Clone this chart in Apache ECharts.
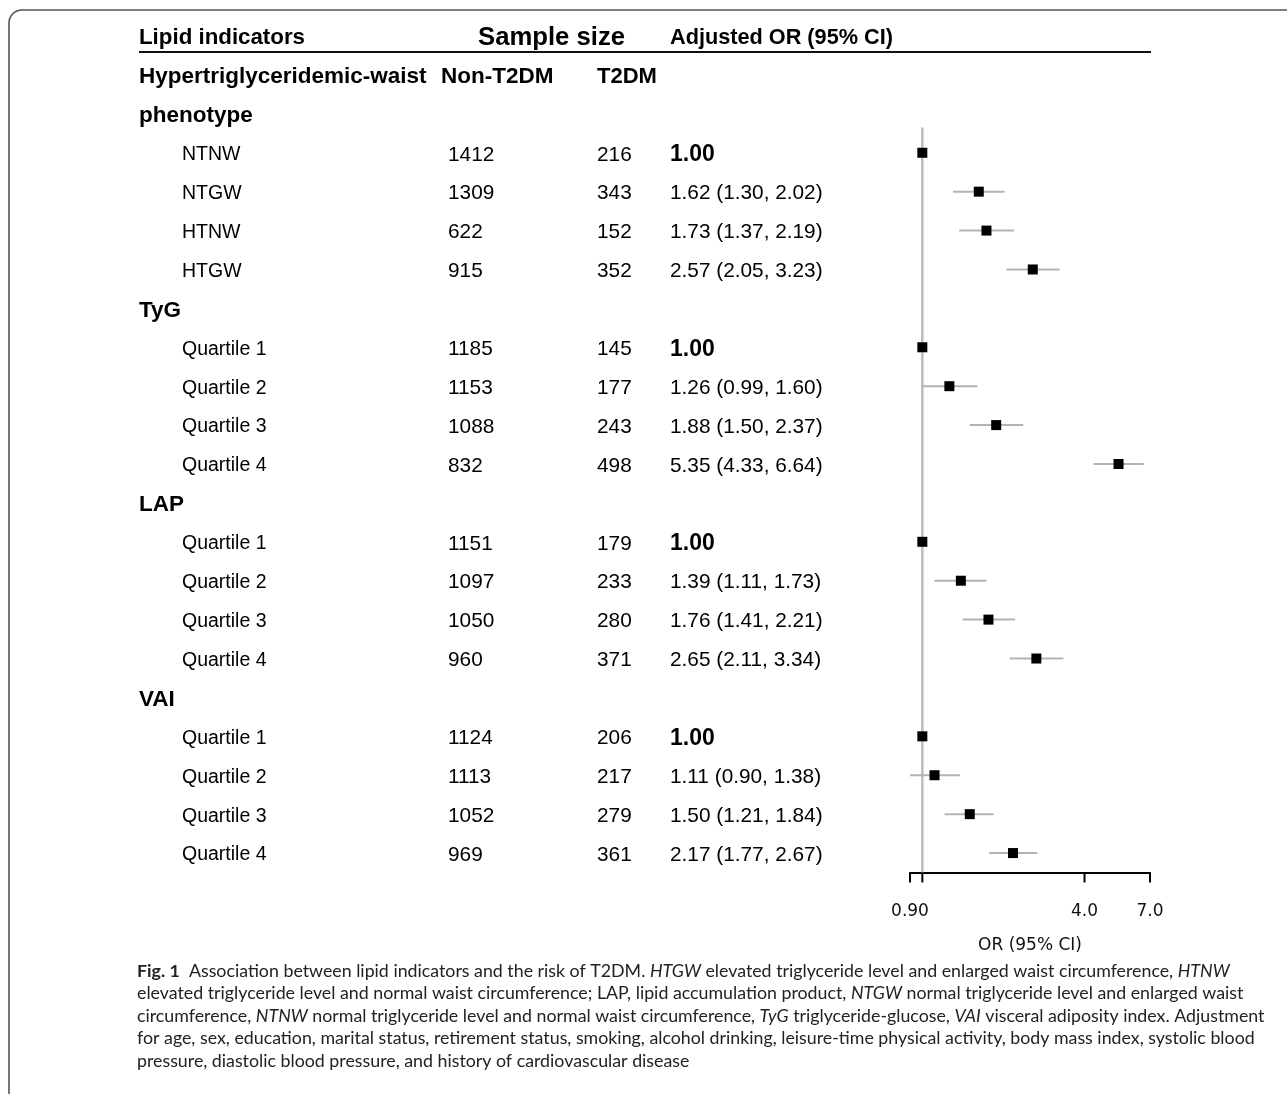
<!DOCTYPE html>
<html>
<head>
<meta charset="utf-8">
<script src="https://cdn.jsdelivr.net/npm/echarts@6/dist/echarts.min.js"></script>
<style>
html,body{margin:0;padding:0;background:#fff;}
#chart{width:1287px;height:1094px;}
</style>
</head>
<body>
<div id="chart"></div>
<script>
// ---------- DATA ----------
const headerCols = ["Lipid indicators", "Sample size", "Adjusted OR (95% CI)"];
const rowLabels = ["Hypertriglyceridemic-waist", "phenotype", "NTNW", "NTGW", "HTNW", "HTGW",
  "TyG", "Quartile 1", "Quartile 2", "Quartile 3", "Quartile 4",
  "LAP", "Quartile 1", "Quartile 2", "Quartile 3", "Quartile 4",
  "VAI", "Quartile 1", "Quartile 2", "Quartile 3", "Quartile 4"];
const groupRows = [0, 1, 6, 11, 16];
const nonT2DM = ["Non-T2DM", "", "1412", "1309", "622", "915", "", "1185", "1153", "1088", "832",
  "", "1151", "1097", "1050", "960", "", "1124", "1113", "1052", "969"];
const t2dm = ["T2DM", "", "216", "343", "152", "352", "", "145", "177", "243", "498",
  "", "179", "233", "280", "371", "", "206", "217", "279", "361"];
const orValues = [null, null, 1.00, 1.62, 1.73, 2.57, null, 1.00, 1.26, 1.88, 5.35,
  null, 1.00, 1.39, 1.76, 2.65, null, 1.00, 1.11, 1.50, 2.17];
const ciLower = [null, null, null, 1.30, 1.37, 2.05, null, null, 0.99, 1.50, 4.33,
  null, null, 1.11, 1.41, 2.11, null, null, 0.90, 1.21, 1.77];
const ciUpper = [null, null, null, 2.02, 2.19, 3.23, null, null, 1.60, 2.37, 6.64,
  null, null, 1.73, 2.21, 3.34, null, null, 1.38, 1.84, 2.67];
const tickValues = [0.9, 1.0, 4.0, 7.0];
const tickLabels = ["0.90", "", "4.0", "7.0"];
const axisTitle = "OR (95% CI)";
const captionLines = [
  "{b|Fig. 1}  Association between lipid indicators and the risk of T2DM. {i|HTGW} elevated triglyceride level and enlarged waist circumference, {i|HTNW}",
  "elevated triglyceride level and normal waist circumference; LAP, lipid accumulation product, {i|NTGW} normal triglyceride level and enlarged waist",
  "circumference, {i|NTNW} normal triglyceride level and normal waist circumference, {i|TyG} triglyceride-glucose, {i|VAI} visceral adiposity index. Adjustment",
  "for age, sex, education, marital status, retirement status, smoking, alcohol drinking, leisure-time physical activity, body mass index, systolic blood",
  "pressure, diastolic blood pressure, and history of cardiovascular disease"
];

// ---------- LAYOUT / STYLE ----------
const FONT = '"Liberation Sans", Arial, sans-serif';
const CAP_FONT = 'Lato, sans-serif';
const CAP_SIZE = 17.8;
const COL_LABEL_GROUP = 139, COL_LABEL_ITEM = 182, COL_N1 = 448, COL_N2 = 597, COL_OR = 670;
const Y_BOTTOM = 20.5;
const TEXT_DY = 2;

const chart = echarts.init(document.getElementById('chart'), null, {renderer: 'canvas'});

function orText(i) {
  if (orValues[i] == null) return '';
  if (ciLower[i] == null) return orValues[i].toFixed(2);
  return orValues[i].toFixed(2) + ' (' + ciLower[i].toFixed(2) + ', ' + ciUpper[i].toFixed(2) + ')';
}

const textRows = rowLabels.map((s, i) => [1, i]);
textRows.unshift([1, -1]);

const option = {
  backgroundColor: '#fff',
  animation: false,
  grid: {left: 910, right: 137, top: 55.5, bottom: 221.5, containLabel: false},
  xAxis: {
    type: 'log', logBase: 10, min: 0.9, max: 7, position: 'bottom',
    axisLine: {show: true, onZero: false, lineStyle: {color: '#000', width: 2}},
    axisTick: {show: false}, axisLabel: {show: false}, splitLine: {show: false},
    name: axisTitle, nameLocation: 'middle', nameGap: 65,
    nameTextStyle: {fontFamily: 'DejaVu Sans', fontSize: 17, color: '#111'}
  },
  yAxis: {
    type: 'value', inverse: true, min: -0.5, max: Y_BOTTOM, show: false
  },
  graphic: [
    {type: 'rect', silent: true, shape: {x: 9, y: 10, width: 1400, height: 1200, r: 13},
     style: {fill: 'none', stroke: '#555', lineWidth: 1.6}},
    {type: 'line', silent: true, shape: {x1: 139, y1: 52, x2: 1151, y2: 52},
     style: {stroke: '#111', lineWidth: 2.2}},
    {type: 'group', silent: true, children: captionLines.map((t, k) => ({
      type: 'text', x: 137, y: 971 + k * 22.5,
      style: {
        text: t, fill: '#222', fontSize: CAP_SIZE, fontFamily: CAP_FONT, verticalAlign: 'middle',
        rich: {
          b: {fontWeight: 'bold', fontSize: CAP_SIZE, fontFamily: CAP_FONT, fill: '#222'},
          i: {fontStyle: 'italic', fontSize: CAP_SIZE, fontFamily: CAP_FONT, fill: '#222'}
        }
      }
    }))}
  ],
  series: [
    // reference line at OR = 1
    {
      type: 'custom', silent: true, clip: false, z: 1,
      data: [[1]], encode: {x: 0},
      renderItem: function (params, api) {
        const p1 = api.coord([api.value(0), 1.35]);
        const p2 = api.coord([api.value(0), Y_BOTTOM]);
        return {type: 'line', shape: {x1: p1[0], y1: p1[1], x2: p2[0], y2: p2[1]},
          style: {stroke: '#bdbdbd', lineWidth: 2.5}};
      }
    },
    // confidence intervals
    {
      type: 'custom', silent: true, clip: false, z: 2,
      data: orValues.map((v, i) => [ciLower[i], ciUpper[i], i]).filter(d => d[0] != null),
      encode: {x: [0, 1], y: 2},
      renderItem: function (params, api) {
        const a = api.coord([api.value(0), api.value(2)]);
        const b = api.coord([api.value(1), api.value(2)]);
        return {type: 'line', shape: {x1: a[0], y1: a[1], x2: b[0], y2: b[1]},
          style: {stroke: '#b3b3b3', lineWidth: 2}};
      }
    },
    // point estimates
    {
      type: 'scatter', silent: true, z: 3,
      symbol: 'rect', symbolSize: 10,
      itemStyle: {color: '#000', opacity: 1},
      data: orValues.map((v, i) => [v, i]).filter(d => d[0] != null)
    },
    // custom axis ticks and labels
    {
      type: 'custom', silent: true, clip: false, z: 4,
      data: tickValues.map((v, k) => [v, Y_BOTTOM, k]),
      encode: {x: 0, y: 1},
      renderItem: function (params, api) {
        const p = api.coord([api.value(0), api.value(1)]);
        const k = params.dataIndex;
        return {type: 'group', children: [
          {type: 'line', shape: {x1: p[0], y1: p[1], x2: p[0], y2: p[1] + 10},
            style: {stroke: '#000', lineWidth: 2}},
          {type: 'text', x: p[0], y: p[1] + 39,
            style: {text: tickLabels[k], fill: '#111', fontFamily: 'DejaVu Sans', fontSize: 17,
              align: 'center', verticalAlign: 'middle'}}
        ]};
      }
    },
    // table text
    {
      type: 'custom', silent: true, clip: false, z: 5,
      data: textRows, encode: {x: 0, y: 1},
      renderItem: function (params, api) {
        const r = api.value(1);
        const y = api.coord([1, r])[1] + TEXT_DY;
        const kids = [];
        const t = (x, s, fs, weight) => kids.push({type: 'text', x: x, y: y,
          style: {text: s, fill: '#000', fontFamily: FONT, fontSize: fs, fontWeight: weight || 'normal',
            align: 'left', verticalAlign: 'middle'}});
        if (r === -1) {
          t(139, headerCols[0], 22.3, 'bold');
          t(478, headerCols[1], 25.7, 'bold');
          t(670, headerCols[2], 21.7, 'bold');
          return {type: 'group', children: kids};
        }
        const isGroup = groupRows.indexOf(r) >= 0;
        if (isGroup) {
          t(COL_LABEL_GROUP, rowLabels[r], 22.5, 'bold');
          if (nonT2DM[r]) t(441, nonT2DM[r], 22.5, 'bold');
          if (t2dm[r]) t(COL_N2, t2dm[r], 22, 'bold');
        } else {
          t(COL_LABEL_ITEM, rowLabels[r], 19.5);
          t(COL_N1, nonT2DM[r], 20.8);
          t(COL_N2, t2dm[r], 20.8);
          if (ciLower[r] == null) t(COL_OR, orText(r), 23, 'bold');
          else t(COL_OR, orText(r), 20.8);
        }
        return {type: 'group', children: kids};
      }
    }
  ]
};
chart.setOption(option);
</script>
</body>
</html>
